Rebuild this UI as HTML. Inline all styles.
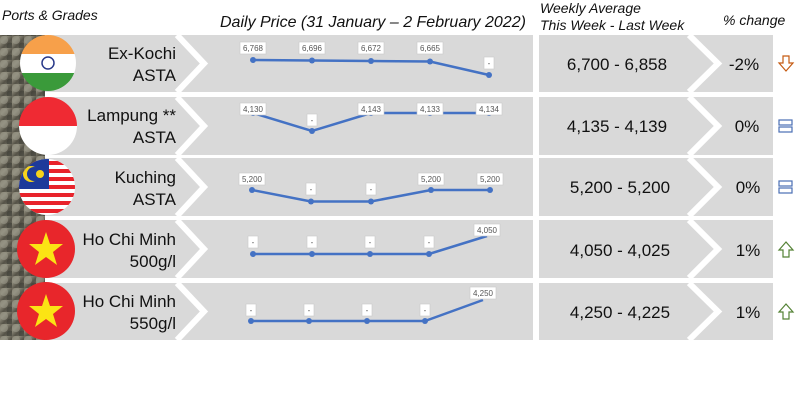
<!DOCTYPE html>
<html><head><meta charset="utf-8"><style>
html,body{margin:0;padding:0;background:#fff;}
svg{display:block;font-family:"Liberation Sans","DejaVu Sans",sans-serif;}
.h{font-style:italic;font-size:14px;fill:#111;}
.n{font-size:17px;fill:#111;text-anchor:end;}
.w{font-size:17px;fill:#111;text-anchor:middle;}
.lb{font-size:8px;fill:#555;text-anchor:middle;}
</style></head><body>
<svg width="800" height="406" viewBox="0 0 800 406">
<defs>
<linearGradient id="pep" x1="0" y1="0" x2="1" y2="1">
<stop offset="0" stop-color="#6e6a5c"/><stop offset="0.3" stop-color="#8d8a7a"/><stop offset="0.6" stop-color="#555247"/><stop offset="1" stop-color="#7a7869"/>
</linearGradient>
<pattern id="dots" width="12" height="12" patternUnits="userSpaceOnUse">
<rect width="12" height="12" fill="url(#pep)"/>
<circle cx="4" cy="4" r="4" fill="#9b9a8a" opacity="0.6"/><circle cx="10" cy="10" r="3.5" fill="#3b3a33" opacity="0.6"/>
</pattern>
</defs>
<text class="h" x="2" y="20">Ports &amp; Grades</text>
<text class="h" x="220" y="27" style="font-size:16px">Daily Price (31 January – 2 February 2022)</text>
<text class="h" x="540" y="13">Weekly Average</text>
<text class="h" x="540" y="30">This Week - Last Week</text>
<text class="h" x="723" y="25">% change</text>
<rect x="0" y="35" width="45" height="305" fill="url(#dots)"/>
<g fill="#d9d9d9">
<rect x="45" y="35" width="488" height="57"/><rect x="539" y="35" width="234" height="57"/>
<rect x="45" y="97" width="488" height="58"/><rect x="539" y="97" width="234" height="58"/>
<rect x="45" y="158" width="488" height="58"/><rect x="539" y="158" width="234" height="58"/>
<rect x="45" y="220" width="488" height="58"/><rect x="539" y="220" width="234" height="58"/>
<rect x="45" y="283" width="488" height="57"/><rect x="539" y="283" width="234" height="57"/>
</g>
<g fill="none" stroke="#fff" stroke-width="6">
<polyline points="177,35 204,63.5 177,92"/><polyline points="689,35 718,63.5 689,92"/>
<polyline points="177,97 204,126 177,155"/><polyline points="689,97 718,126 689,155"/>
<polyline points="177,158 204,187 177,216"/><polyline points="689,158 718,187 689,216"/>
<polyline points="177,220 204,249 177,278"/><polyline points="689,220 718,249 689,278"/>
<polyline points="177,283 204,311.5 177,340"/><polyline points="689,283 718,311.5 689,340"/>
</g>
<g>
<clipPath id="c1"><circle cx="48" cy="63" r="28"/></clipPath>
<g clip-path="url(#c1)"><rect x="20" y="35" width="56" height="19" fill="#f7a04a"/><rect x="20" y="54" width="56" height="19" fill="#fff"/><rect x="20" y="73" width="56" height="19" fill="#3a9a3a"/></g>
<circle cx="48" cy="63" r="6" fill="none" stroke="#2a3a8a" stroke-width="1.5"/>
<clipPath id="c2"><circle cx="48" cy="126" r="29"/></clipPath>
<g clip-path="url(#c2)"><rect x="19" y="97" width="58" height="29" fill="#ef2a33"/><rect x="19" y="126" width="58" height="29" fill="#fff"/></g>
<clipPath id="c3"><circle cx="47" cy="187" r="28"/></clipPath>
<g clip-path="url(#c3)"><rect x="19" y="159" width="56" height="56" fill="#fff"/>
<g fill="#e8232b"><rect x="19" y="161" width="56" height="4"/><rect x="19" y="169" width="56" height="4"/><rect x="19" y="177" width="56" height="4"/><rect x="19" y="185" width="56" height="4"/><rect x="19" y="193" width="56" height="4"/><rect x="19" y="201" width="56" height="4"/><rect x="19" y="209" width="56" height="4"/></g>
<rect x="19" y="159" width="30" height="30" fill="#1d3a9a"/><circle cx="31" cy="174" r="8" fill="#f6d31a"/><circle cx="34" cy="174" r="7" fill="#1d3a9a"/><circle cx="40" cy="174" r="4" fill="#f6d31a"/></g>
<circle cx="46" cy="249" r="29" fill="#e8262b"/>
<polygon points="46,232 50,244 63,244 53,252 57,265 46,257 35,265 39,252 29,244 42,244" fill="#fbe414"/>
<circle cx="46" cy="311" r="29" fill="#e8262b"/>
<polygon points="46,294 50,306 63,306 53,314 57,327 46,319 35,327 39,314 29,306 42,306" fill="#fbe414"/>
</g>
<text class="n" x="176" y="59">Ex-Kochi</text><text class="n" x="176" y="81">ASTA</text>
<text class="n" x="176" y="121">Lampung **</text><text class="n" x="176" y="143">ASTA</text>
<text class="n" x="176" y="183">Kuching</text><text class="n" x="176" y="205">ASTA</text>
<text class="n" x="176" y="245">Ho Chi Minh</text><text class="n" x="176" y="267">500g/l</text>
<text class="n" x="176" y="307">Ho Chi Minh</text><text class="n" x="176" y="329">550g/l</text>
<g fill="none" stroke="#4472c4" stroke-width="2.5">
<polyline points="253,60 312,60.5 371,61 430,61.5 489,75"/>
<polyline points="253,113 312,131 371,113 430,113 489,113"/>
<polyline points="252,190 311,201.5 371,201.5 431,190 490,190"/>
<polyline points="253,254 312,254 370,254 429,254 487,236"/>
<polyline points="251,321 309,321 367,321 425,321 483,300"/>
</g>
<g fill="#4472c4">
<circle cx="253" cy="60" r="3"/><circle cx="312" cy="60.5" r="3"/><circle cx="371" cy="61" r="3"/><circle cx="430" cy="61.5" r="3"/><circle cx="489" cy="75" r="3"/>
<circle cx="253" cy="113" r="3"/><circle cx="312" cy="131" r="3"/><circle cx="371" cy="113" r="3"/><circle cx="430" cy="113" r="3"/><circle cx="489" cy="113" r="3"/>
<circle cx="252" cy="190" r="3"/><circle cx="311" cy="201.5" r="3"/><circle cx="371" cy="201.5" r="3"/><circle cx="431" cy="190" r="3"/><circle cx="490" cy="190" r="3"/>
<circle cx="253" cy="254" r="3"/><circle cx="312" cy="254" r="3"/><circle cx="370" cy="254" r="3"/><circle cx="429" cy="254" r="3"/>
<circle cx="251" cy="321" r="3"/><circle cx="309" cy="321" r="3"/><circle cx="367" cy="321" r="3"/><circle cx="425" cy="321" r="3"/>
</g>
<g fill="#fff" stroke="#c8c8c8" stroke-width="0.6">
<rect x="240" y="42" width="26" height="12"/><rect x="299" y="42" width="26" height="12"/><rect x="358" y="42" width="26" height="12"/><rect x="417" y="42" width="26" height="12"/><rect x="484" y="57" width="10" height="12"/>
<rect x="240" y="103" width="26" height="12"/><rect x="307" y="114" width="10" height="12"/><rect x="358" y="103" width="26" height="12"/><rect x="417" y="103" width="26" height="12"/><rect x="476" y="103" width="26" height="12"/>
<rect x="239" y="173" width="26" height="12"/><rect x="306" y="183" width="10" height="12"/><rect x="366" y="183" width="10" height="12"/><rect x="418" y="173" width="26" height="12"/><rect x="477" y="173" width="26" height="12"/>
<rect x="248" y="236" width="10" height="12"/><rect x="307" y="236" width="10" height="12"/><rect x="365" y="236" width="10" height="12"/><rect x="424" y="236" width="10" height="12"/><rect x="474" y="224" width="26" height="12"/>
<rect x="246" y="304" width="10" height="12"/><rect x="304" y="304" width="10" height="12"/><rect x="362" y="304" width="10" height="12"/><rect x="420" y="304" width="10" height="12"/><rect x="470" y="287" width="26" height="12"/>
</g>
<g class="lb">
<text x="253" y="51">6,768</text><text x="312" y="51">6,696</text><text x="371" y="51">6,672</text><text x="430" y="51">6,665</text><text x="489" y="66">-</text>
<text x="253" y="112">4,130</text><text x="312" y="123">-</text><text x="371" y="112">4,143</text><text x="430" y="112">4,133</text><text x="489" y="112">4,134</text>
<text x="252" y="182">5,200</text><text x="311" y="192">-</text><text x="371" y="192">-</text><text x="431" y="182">5,200</text><text x="490" y="182">5,200</text>
<text x="253" y="245">-</text><text x="312" y="245">-</text><text x="370" y="245">-</text><text x="429" y="245">-</text><text x="487" y="233">4,050</text>
<text x="251" y="313">-</text><text x="309" y="313">-</text><text x="367" y="313">-</text><text x="425" y="313">-</text><text x="483" y="296">4,250</text>
</g>
<text class="w" x="617" y="70">6,700 - 6,858</text>
<text class="w" x="617" y="132">4,135 - 4,139</text>
<text class="w" x="620" y="193">5,200 - 5,200</text>
<text class="w" x="620" y="256">4,050 - 4,025</text>
<text class="w" x="620" y="318">4,250 - 4,225</text>
<text class="w" x="744" y="70">-2%</text>
<text class="w" x="747" y="132">0%</text>
<text class="w" x="748" y="193">0%</text>
<text class="w" x="748" y="256">1%</text>
<text class="w" x="748" y="318">1%</text>
<polygon points="783,56 789,56 789,63 793,63 786,71 779,63 783,63" fill="none" stroke="#c55a11" stroke-width="1.2"/>
<g fill="none" stroke="#4a6fb5" stroke-width="1.2"><rect x="779" y="120" width="13" height="5"/><rect x="779" y="127" width="13" height="5"/>
<rect x="779" y="181" width="13" height="5"/><rect x="779" y="188" width="13" height="5"/></g>
<g fill="none" stroke="#548235" stroke-width="1.2">
<polygon points="786,242 793,250 789,250 789,257 783,257 783,250 779,250"/>
<polygon points="786,304 793,312 789,312 789,319 783,319 783,312 779,312"/>
</g>
</svg>
</body></html>
